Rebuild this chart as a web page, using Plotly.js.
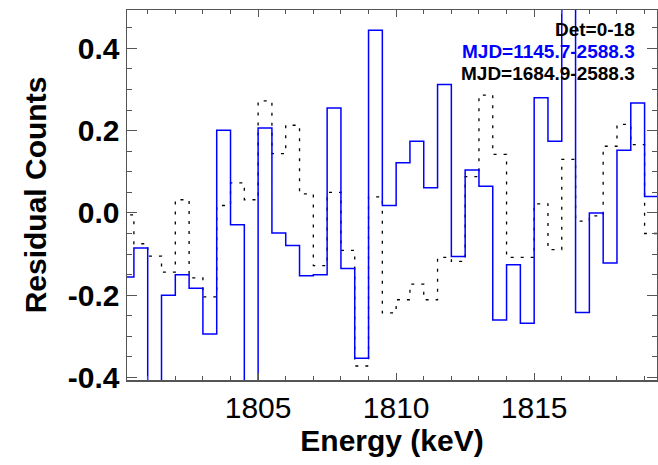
<!DOCTYPE html>
<html>
<head>
<meta charset="utf-8">
<script src="https://cdn.plot.ly/plotly-3.0.1.min.js"></script>
<style>html,body{margin:0;padding:0;background:#fff;}#chart{width:658px;height:465px;}</style>
</head>
<body>
<div id="chart"></div>
<script>
// Bin centres (keV), 0.5 keV bins
var energy = [1800.25,1800.75,1801.25,1801.75,1802.25,1802.75,1803.25,1803.75,1804.25,1804.75,
              1805.25,1805.75,1806.25,1806.75,1807.25,1807.75,1808.25,1808.75,1809.25,1809.75,
              1810.25,1810.75,1811.25,1811.75,1812.25,1812.75,1813.25,1813.75,1814.25,1814.75,
              1815.25,1815.75,1816.25,1816.75,1817.25,1817.75,1818.25,1818.75,1819.25];
// MJD=1145.7-2588.3 (blue, solid)
var residBlue = [-0.156,-0.085,-0.42,-0.200,-0.150,-0.183,-0.294,0.201,-0.029,-0.42,
                 0.206,-0.049,-0.079,-0.153,-0.150,0.255,-0.135,-0.353,0.444,0.018,
                 0.122,0.174,0.061,0.312,-0.106,0.104,0.065,-0.260,-0.126,-0.268,
                 0.280,0.174,0.50,-0.242,0.000,-0.122,0.152,0.267,0.040];
// MJD=1684.9-2588.3 (black, dotted)
var residBlack = [-0.005,-0.075,-0.105,-0.144,0.032,-0.158,-0.204,0.018,0.073,0.032,
                  0.272,0.144,0.213,0.046,-0.128,0.050,-0.091,-0.372,0.039,-0.243,
                  -0.211,-0.173,-0.211,-0.108,-0.118,0.088,0.286,0.142,-0.108,-0.108,
                  0.022,-0.089,0.130,-0.020,-0.007,0.162,0.215,0.166,-0.050];
var binWidth = 0.5;
var xTickVals = [1805, 1810, 1815];
var yTickVals = [-0.4, -0.2, 0.0, 0.2, 0.4];
var labels = ["Det=0-18", "MJD=1145.7-2588.3", "MJD=1684.9-2588.3"];

function stepEdges(c) {
  var e = c.map(function(v){ return v - binWidth/2; });
  e.push(c[c.length-1] + binWidth/2);
  return e;
}
function stepVals(v) { var o = v.slice(); o.push(v[v.length-1]); return o; }

var xe = stepEdges(energy);
var traces = [
  {x: xe, y: stepVals(residBlack), type: 'scatter', mode: 'lines',
   line: {shape: 'hv', color: '#000000', width: 1.3, dash: '3px,7px'}, name: labels[2]},
  {x: xe, y: stepVals(residBlue), type: 'scatter', mode: 'lines',
   line: {shape: 'hv', color: '#0000ff', width: 1.5}, name: labels[1]}
];

var axCol = '#555555';
var fam = 'Liberation Sans, Arial, Helvetica, sans-serif';
var layout = {
  width: 658, height: 465,
  margin: {l: 127, r: 1, t: 10, b: 85, pad: 0},
  paper_bgcolor: '#ffffff', plot_bgcolor: '#ffffff',
  showlegend: false,
  font: {family: fam, color: '#000'},
  xaxis: {
    range: [1800.25, 1819.45], tickvals: xTickVals, ticktext: xTickVals.map(String),
    ticks: 'inside', ticklen: 7, tickwidth: 1, tickcolor: axCol,
    minor: {dtick: 1, tick0: 1800, ticks: 'inside', ticklen: 4, tickwidth: 1, tickcolor: axCol, showgrid: false},
    showline: true, linecolor: axCol, linewidth: 1.5, mirror: 'ticks',
    showgrid: false, zeroline: false,
    tickfont: {family: fam, size: 30, color: '#000'},
    title: {text: 'Energy (keV)', font: {family: fam, size: 30, weight: 'bold', color: '#000'}, standoff: 4}
  },
  yaxis: {
    range: [-0.406, 0.493], tickvals: yTickVals, ticktext: yTickVals.map(function(v){return v.toFixed(1);}),
    ticks: 'inside', ticklen: 10, tickwidth: 1, tickcolor: axCol,
    minor: {dtick: 0.05, tick0: 0, ticks: 'inside', ticklen: 5, tickwidth: 1, tickcolor: axCol, showgrid: false},
    showline: true, linecolor: axCol, linewidth: 1.5, mirror: 'ticks',
    showgrid: false, zeroline: false,
    tickfont: {family: fam, size: 30, weight: 'bold', color: '#000'},
    title: {text: 'Residual Counts', font: {family: fam, size: 30, weight: 'bold', color: '#000'}, standoff: 12}
  },
  annotations: [
    {text: labels[0], xref: 'paper', yref: 'paper', x: 0.9632, y: 0.946, xanchor: 'right', yanchor: 'middle',
     showarrow: false, font: {family: fam, size: 19, weight: 'bold', color: '#000000'}},
    {text: labels[1], xref: 'paper', yref: 'paper', x: 0.9632, y: 0.8885, xanchor: 'right', yanchor: 'middle',
     showarrow: false, font: {family: fam, size: 19, weight: 'bold', color: '#0000ff'}},
    {text: labels[2], xref: 'paper', yref: 'paper', x: 0.9632, y: 0.829, xanchor: 'right', yanchor: 'middle',
     showarrow: false, font: {family: fam, size: 19, weight: 'bold', color: '#000000'}}
  ]
};
Plotly.newPlot('chart', traces, layout, {staticPlot: true, displayModeBar: false});
</script>
</body>
</html>
